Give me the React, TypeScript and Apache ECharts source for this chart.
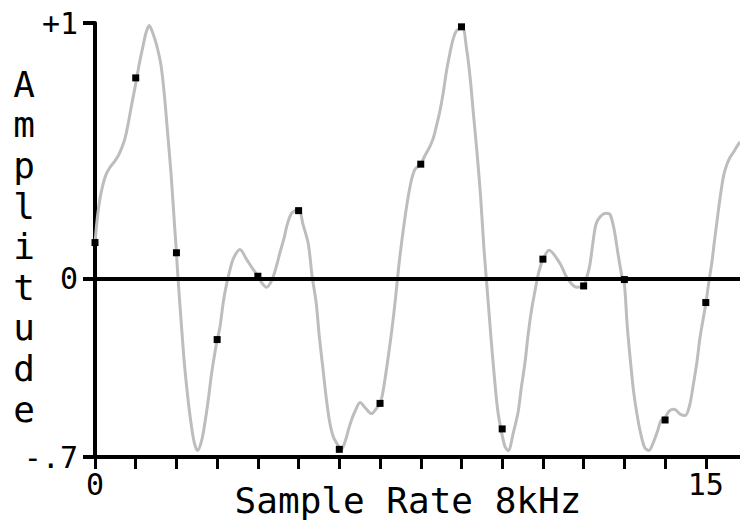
import React, { useEffect, useRef } from "react";
import * as echarts from "echarts";

// Sample points (black dots)
const sampleX = [0, 1, 2, 3, 4, 5, 6, 7, 8, 9, 10, 11, 12, 13, 14, 15];
const sampleY = [0.14, 0.785, 0.1, -0.24, 0.008, 0.265, -0.67, -0.49, 0.447, 0.985, -0.59, 0.075, -0.03, -0.005, -0.555, -0.095];

// Continuous waveform (gray curve)
const curveX = [
  0.0, 0.06, 0.12, 0.2, 0.28, 0.37, 0.49, 0.57, 0.655, 0.74, 0.82, 0.9, 0.98, 1.03, 1.1, 1.18, 1.25, 1.33, 1.41, 1.51,
  1.62, 1.7, 1.78, 1.87, 1.95, 2.0, 2.03, 2.11, 2.19, 2.28, 2.36, 2.44, 2.52, 2.62, 2.7, 2.78, 2.86, 2.95, 3.0, 3.07,
  3.15, 3.23, 3.31, 3.4, 3.56, 3.72, 3.85, 4.0, 4.09, 4.21, 4.34, 4.46, 4.54, 4.64, 4.72, 4.83, 5.0, 5.11, 5.24, 5.33,
  5.43, 5.51, 5.6, 5.68, 5.76, 5.85, 5.97, 6.05, 6.15, 6.23, 6.31, 6.39, 6.51, 6.63, 6.79, 6.91, 7.0, 7.06, 7.14, 7.22,
  7.3, 7.38, 7.46, 7.53, 7.61, 7.69, 7.77, 7.86, 8.0, 8.1, 8.22, 8.31, 8.39, 8.47, 8.55, 8.63, 8.72, 8.8, 8.88, 9.02,
  9.12, 9.21, 9.29, 9.38, 9.47, 9.55, 9.63, 9.73, 9.81, 9.89, 9.98, 10.07, 10.15, 10.27, 10.39, 10.47, 10.56, 10.63, 10.71, 10.8,
  10.88, 10.96, 11.0, 11.15, 11.42, 11.6, 11.83, 12.0, 12.07, 12.15, 12.22, 12.3, 12.4, 12.55, 12.65, 12.75, 12.85, 12.95, 13.0, 13.07,
  13.15, 13.23, 13.31, 13.4, 13.5, 13.6, 13.72, 13.82, 13.9, 14.0, 14.1, 14.22, 14.38, 14.5, 14.6, 14.68, 14.78, 14.86, 15.0, 15.07,
  15.15, 15.2, 15.28, 15.36, 15.44, 15.52, 15.6, 15.68, 15.77, 15.84,
];
const curveY = [
  0.14, 0.24, 0.31, 0.37, 0.41, 0.435, 0.46, 0.48, 0.51, 0.55, 0.61, 0.68, 0.745, 0.79, 0.85, 0.91, 0.96, 0.99, 0.965, 0.915,
  0.835, 0.724, 0.576, 0.404, 0.216, 0.1, 0.02, -0.157, -0.325, -0.467, -0.57, -0.645, -0.675, -0.635, -0.565, -0.478, -0.377, -0.286, -0.243, -0.19,
  -0.094, -0.024, 0.03, 0.078, 0.113, 0.075, 0.043, 0.008, -0.016, -0.035, -0.008, 0.05, 0.1, 0.155, 0.21, 0.255, 0.27, 0.21, 0.133, 0.01,
  -0.094, -0.23, -0.357, -0.47, -0.56, -0.62, -0.655, -0.67, -0.635, -0.59, -0.55, -0.52, -0.487, -0.506, -0.53, -0.51, -0.49, -0.455, -0.376, -0.286,
  -0.19, -0.078, 0.047, 0.14, 0.235, 0.318, 0.384, 0.427, 0.447, 0.48, 0.515, 0.55, 0.6, 0.655, 0.725, 0.81, 0.885, 0.94, 0.97, 0.985,
  0.905, 0.79, 0.65, 0.495, 0.32, 0.12, -0.04, -0.243, -0.39, -0.517, -0.6, -0.66, -0.675, -0.607, -0.525, -0.428, -0.33, -0.23, -0.135, -0.054,
  0.012, 0.058, 0.075, 0.11, 0.058, 0.0, -0.035, -0.03, 0.0, 0.05, 0.13, 0.21, 0.24, 0.255, 0.25, 0.19, 0.09, 0.0, -0.02, -0.185,
  -0.325, -0.447, -0.533, -0.608, -0.663, -0.675, -0.64, -0.596, -0.557, -0.545, -0.52, -0.513, -0.533, -0.537, -0.5, -0.43, -0.33, -0.23, -0.1, -0.02,
  0.063, 0.13, 0.23, 0.325, 0.404, 0.447, 0.475, 0.494, 0.518, 0.535,
];

const xTickValues = [0, 1, 2, 3, 4, 5, 6, 7, 8, 9, 10, 11, 12, 13, 14, 15];
const xLabelValues = [0, 15];
const yTickValues = [-0.7, 0, 1];
const yLabelTexts: Record<string, string> = { "-0.7": "-.7", "0": "0", "1": "+1" };

const X_NAME = "Sample Rate 8kHz";
const Y_NAME = "Amplitude";

const MONO = "DejaVu Sans Mono";

export default function App() {
  const ref = useRef<HTMLDivElement>(null);
  useEffect(() => {
    if (!ref.current) return;
    const chart = echarts.init(ref.current, undefined, { renderer: "svg" });
    chart.setOption({
      animation: false,
      backgroundColor: "#ffffff",
      grid: { left: 95, top: 23, right: 0, bottom: 65, containLabel: false },
      xAxis: {
        type: "value",
        min: 0,
        max: 15.84,
        interval: 1,
        axisLine: { show: true, onZero: false, lineStyle: { color: "#000", width: 4 } },
        axisTick: { show: true, length: 12, customValues: xTickValues, lineStyle: { color: "#000", width: 3 } },
        axisLabel: {
          show: true,
          customValues: xLabelValues,
          margin: 12,
          color: "#000",
          fontFamily: MONO,
          fontSize: 30,
          formatter: (v: number) => (v === 0 || v === 15 ? String(v) : ""),
        },
        splitLine: { show: false },
      },
      yAxis: {
        type: "value",
        min: -0.7,
        max: 1,
        axisLine: { show: true, onZero: false, lineStyle: { color: "#000", width: 4 } },
        axisTick: { show: true, length: 12, customValues: yTickValues, lineStyle: { color: "#000", width: 4 } },
        axisLabel: {
          show: true,
          customValues: yTickValues,
          margin: 17,
          color: "#000",
          fontFamily: MONO,
          fontSize: 30,
          formatter: (v: number) => yLabelTexts[String(Math.round(v * 10) / 10)] ?? "",
        },
        splitLine: { show: false },
      },
      graphic: [
        {
          type: "text",
          style: {
            text: Y_NAME.split("").join("\n"),
            x: 24,
            y: 64,
            align: "center",
            verticalAlign: "top",
            fontFamily: MONO,
            fontSize: 36,
            lineHeight: 40.6,
            fill: "#000",
          },
          silent: true,
        },
        {
          type: "text",
          style: {
            text: X_NAME,
            x: 408,
            y: 500,
            align: "center",
            verticalAlign: "middle",
            fontFamily: MONO,
            fontSize: 36,
            fill: "#000",
          },
          silent: true,
        },
      ],
      series: [
        {
          type: "line",
          data: curveX.map((x, i) => [x, curveY[i]]),
          symbol: "none",
          showSymbol: false,
          smooth: 0.3,
          lineStyle: { color: "#bdbdbd", width: 3 },
          silent: true,
          z: 2,
        },
        {
          type: "scatter",
          data: sampleX.map((x, i) => [x, sampleY[i]]),
          symbol: "rect",
          symbolSize: 7,
          itemStyle: { color: "#000", opacity: 1 },
          silent: true,
          z: 4,
          markLine: {
            silent: true,
            symbol: ["none", "none"],
            label: { show: false },
            lineStyle: { color: "#000", width: 4, type: "solid", opacity: 1 },
            data: [{ yAxis: 0 }],
          },
        },
      ],
    });
    return () => chart.dispose();
  }, []);
  return <div ref={ref} style={{ position: "absolute", left: 0, top: 0, width: 740, height: 522 }} />;
}
